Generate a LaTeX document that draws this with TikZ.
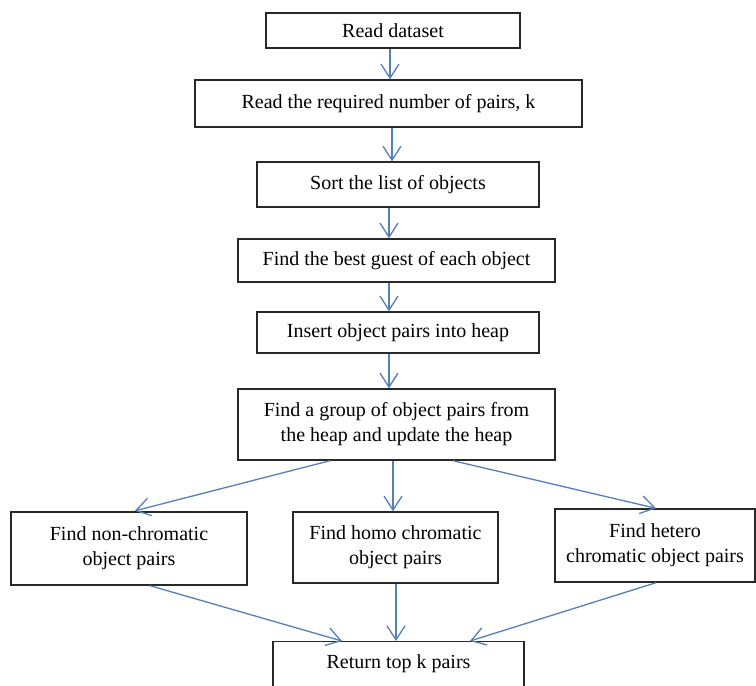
\documentclass[tikz,border=0pt]{standalone}
\usepackage{fontspec}
\setmainfont{Liberation Serif}
\usetikzlibrary{arrows.meta}
\definecolor{arrblue}{RGB}{84,128,186}
\definecolor{boxline}{RGB}{40,40,40}
\begin{document}
\begin{tikzpicture}[x=1pt,y=-1pt,
  box/.style={draw=boxline, line width=1.4pt, rectangle, inner sep=0pt, align=center,
    font=\fontsize{20}{25}\selectfont, text=black},
  arr/.style={draw=arrblue, line width=1.3pt,
    -{Straight Barb[length=14pt,width=18pt,line width=1.3pt]}}]
\useasboundingbox (0,0) rectangle (756,686);
\fill[white] (0,0) rectangle (756,686);
\clip (0,0) rectangle (756,686);
\node[box, minimum width=254pt, minimum height=35pt] (b1) at (393,30.5) {Read dataset};
\node[box, minimum width=387pt, minimum height=47pt] (b2) at (388.5,103.5) {Read the required number of pairs, k};
\node[box, minimum width=282pt, minimum height=45pt] (b3) at (398,184.5) {Sort the list of objects};
\node[box, minimum width=317pt, minimum height=43pt] (b4) at (396.5,260.5) {Find the best guest of each object};
\node[box, minimum width=282pt, minimum height=41pt] (b5) at (398,332.5) {Insert object pairs into heap};
\node[box, minimum width=317pt, minimum height=71pt] (b6) at (396.5,424.5) {Find a group of object pairs from\\the heap and update the heap};
\node[box, minimum width=236pt, minimum height=73pt] (b7) at (129,548.5) {Find non-chromatic\\object pairs};
\node[box, minimum width=205pt, minimum height=71pt] (b8) at (395.5,547.5) {Find homo chromatic\\object pairs};
\node[box, minimum width=200pt, minimum height=73pt] (b9) at (655,545.5) {Find hetero\\chromatic object pairs};
\node[box, minimum width=251pt, anchor=north, text height=27pt, text depth=30pt] (b10) at (398.5,641) {Return top k pairs};
\draw[arr] (b1.south -| 390,0) -- (b2.north -| 390,0);
\draw[arr] (b2.south -| 392,0) -- (b3.north -| 392,0);
\draw[arr] (b3.south -| 389,0) -- (b4.north -| 389,0);
\draw[arr] (b4.south -| 389,0) -- (b5.north -| 389,0);
\draw[arr] (b5.south -| 389,0) -- (b6.north -| 389,0);
\draw[arr, shorten >=2pt] (b6.south -| 330,0) -- (b7.north -| 133,0);
\draw[arr] (b6.south -| 393,0) -- (b8.north -| 393,0);
\draw[arr] (b6.south -| 453,0) -- (b9.north -| 656,0);
\draw[arr] (b7.south -| 150,0) -- (b10.north -| 342,0);
\draw[arr] (b8.south -| 396,0) -- (b10.north -| 396,0);
\draw[arr] (b9.south -| 656,0) -- (b10.north -| 470,0);
\end{tikzpicture}
\end{document}
